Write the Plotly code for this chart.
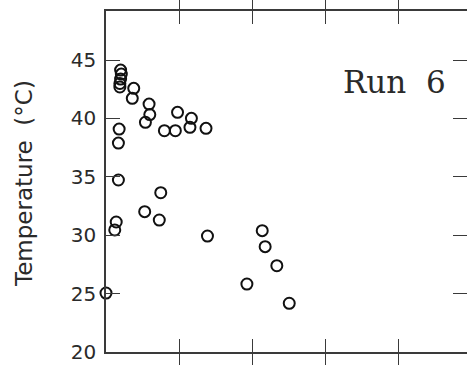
import plotly.graph_objects as go

# Elapsed time (axis units) and measured temperature (°C) for run 6
time_vals = [0.00, 0.12, 0.14, 0.17, 0.17, 0.18,
             0.20, 0.21, 0.20, 0.19, 0.19,
             0.38, 0.36, 0.59, 0.60, 0.54, 0.98, 0.80, 0.95,
             1.17, 1.15, 1.37,
             0.75, 0.53, 0.73, 1.39,
             2.14, 2.18, 2.34, 1.93, 2.51]
temp_vals = [25.05, 30.45, 31.13, 34.73, 37.89, 39.09,
             44.14, 43.80, 43.37, 42.99, 42.69,
             42.58, 41.72, 41.23, 40.33, 39.67, 40.52, 38.95, 38.95,
             40.01, 39.24, 39.15,
             33.64, 32.02, 31.30, 29.93,
             30.39, 29.02, 27.39, 25.82, 24.17]

y_ticks = [20, 25, 30, 35, 40, 45]
x_ticks = [0, 1, 2, 3, 4]
y_range = [20, 49.2]
x_range = [0, 4.945]

axis_color = "#3a3a3a"
text_color = "#2a2a2a"

fig = go.Figure()
fig.add_trace(go.Scatter(
    x=time_vals, y=temp_vals, mode="markers",
    marker=dict(symbol="circle-open", size=11, color="#111111",
                line=dict(width=2, color="#111111")),
    showlegend=False, cliponaxis=False,
))
# invisible trace that carries the right-hand tick marks
fig.add_trace(go.Scatter(x=[None], y=[None], yaxis="y2", showlegend=False))

fig.update_layout(
    width=467, height=365,
    margin=dict(l=106, r=0, t=11, b=13),
    paper_bgcolor="white", plot_bgcolor="white",
    font=dict(family="DejaVu Sans", color=text_color),
    xaxis=dict(range=x_range, tickvals=x_ticks, showticklabels=False,
               ticks="inside", ticklen=13, tickwidth=1.3, tickcolor=axis_color,
               showline=True, linewidth=1.6, linecolor=axis_color,
               mirror="allticks", showgrid=False, zeroline=False),
    yaxis=dict(range=y_range, tickvals=y_ticks,
               ticks="inside", ticklen=14, tickwidth=1.3, tickcolor=axis_color,
               tickfont=dict(size=20, color=text_color, family="DejaVu Sans"),
               ticklabelstandoff=4,
               showline=True, linewidth=1.6, linecolor=axis_color,
               showgrid=False, zeroline=False),
    yaxis2=dict(range=y_range, tickvals=y_ticks, overlaying="y", side="right",
                anchor="x", ticks="inside", ticklen=14, tickwidth=1.3,
                tickcolor=axis_color, showticklabels=False, showline=False,
                showgrid=False, zeroline=False),
    annotations=[
        dict(text="Temperature  (°C)", xref="paper", yref="paper",
             x=-0.227, y=0.493, xanchor="center", yanchor="middle",
             textangle=-90, showarrow=False,
             font=dict(size=23, family="DejaVu Sans", color=text_color)),
        dict(text="Run  6", xref="paper", yref="paper",
             x=0.80, y=0.792, xanchor="center", yanchor="middle",
             showarrow=False,
             font=dict(size=31, family="DejaVu Serif", color=text_color)),
    ],
)

fig.write_html("out.html")
